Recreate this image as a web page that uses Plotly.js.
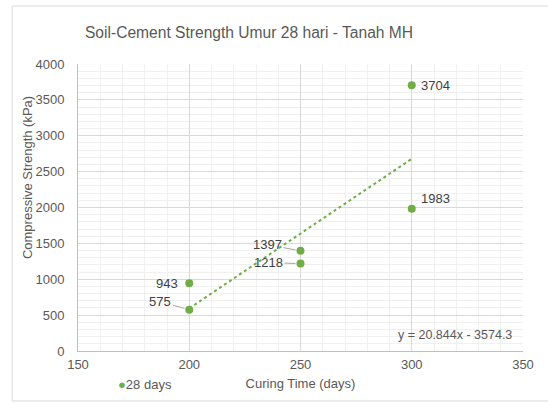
<!DOCTYPE html>
<html>
<head>
<meta charset="utf-8">
<script src="https://cdn.plot.ly/plotly-3.0.1.min.js"></script>
<style>html,body{margin:0;padding:0;background:#fff;}#chart{width:548px;height:403px;}</style>
</head>
<body>
<div id="chart"></div>
<script>
// ---- data ----
const curingDays = [200, 200, 250, 250, 300, 300];
const strengthKPa = [943, 575, 1397, 1218, 3704, 1983];
const seriesName = "28 days";
const trendSlope = 20.844;
const trendIntercept = -3574.3;
const equationText = "y = 20.844x - 3574.3";
const chartTitle = "Soil-Cement Strength Umur 28 hari - Tanah MH";
const xTitle = "Curing Time (days)";
const yTitle = "Compressive Strength (kPa)";

const green = "#70AD47";
const txt = "#595959";
const font = "Arial, 'Liberation Sans', sans-serif";

const xMin = Math.min(...curingDays), xMax = Math.max(...curingDays);
const trendX = [xMin, xMax];
const trendY = trendX.map(x => trendSlope * x + trendIntercept);

// label placements (pixel offsets from each point; dy positive = down)
const labelPlace = [
  {dx: -22, dy: 0, arrow: false},
  {dx: -29, dy: -8, arrow: true},
  {dx: -33, dy: -6, arrow: true},
  {dx: -32, dy: -1, arrow: true},
  {dx: 24, dy: 0, arrow: false},
  {dx: 24, dy: -10, arrow: false}
];

const annotations = curingDays.map((x, i) => {
  const p = labelPlace[i];
  const a = {x: x, y: strengthKPa[i], xref: "x", yref: "y", text: String(strengthKPa[i]),
    font: {family: font, size: 13, color: "#404040"}};
  if (p.arrow) {
    Object.assign(a, {showarrow: true, ax: p.dx, ay: p.dy, arrowhead: 0, arrowwidth: 1,
      arrowcolor: "#a6a6a6", standoff: 5});
  } else {
    Object.assign(a, {showarrow: false, xshift: p.dx, yshift: -p.dy});
  }
  return a;
});

annotations.push({xref: "paper", yref: "paper", x: 0.847, y: 0.056, xanchor: "center", yanchor: "middle",
  text: equationText, showarrow: false, font: {family: font, size: 12.5, color: txt}});
annotations.push({xref: "paper", yref: "paper", x: -0.112, y: 0.603, xanchor: "center", yanchor: "middle",
  text: yTitle, textangle: -90, showarrow: false, font: {family: font, size: 13, color: txt}});
annotations.push({xref: "paper", yref: "paper", x: 0.085, y: -0.115, xanchor: "left", yanchor: "middle",
  text: '<span style="color:' + green + '">●</span>' + seriesName, showarrow: false,
  font: {family: font, size: 13, color: txt}});

const traces = [
  {x: curingDays, y: strengthKPa, type: "scatter", mode: "markers", name: seriesName,
    marker: {color: green, size: 8}, showlegend: false},
  {x: trendX, y: trendY, type: "scatter", mode: "lines", name: "Linear (" + seriesName + ")",
    line: {color: green, width: 2, dash: "dot"}, showlegend: false, hoverinfo: "skip"}
];

const layout = {
  width: 548, height: 403,
  margin: {l: 78, r: 25, t: 64, b: 52},
  paper_bgcolor: "#fff", plot_bgcolor: "#fff",
  font: {family: font, color: txt, size: 13},
  title: {text: chartTitle, x: 0.155, xanchor: "left", y: 0.92, yanchor: "middle",
    font: {family: font, size: 15.6, color: txt}},
  xaxis: {range: [150, 350], dtick: 50, tick0: 150, showgrid: true, gridcolor: "#d9d9d9",
    minor: {dtick: 10, showgrid: true, gridcolor: "#f0f0f0"},
    showline: true, linecolor: "#bfbfbf", zeroline: false, ticks: "", ticklabelstandoff: 1,
    tickfont: {family: font, size: 13, color: txt},
    title: {text: xTitle, standoff: 8, font: {family: font, size: 13, color: txt}}},
  yaxis: {range: [0, 4000], dtick: 500, showgrid: true, gridcolor: "#d9d9d9",
    minor: {dtick: 100, showgrid: true, gridcolor: "#f0f0f0"},
    showline: true, linecolor: "#bfbfbf", zeroline: false, ticks: "", ticklabelstandoff: 10,
    tickfont: {family: font, size: 13, color: txt}},
  shapes: [
    {type: "line", xref: "paper", yref: "paper", x0: -0.148, x1: -0.148, y0: 1.202, y1: -0.174,
      line: {color: "#d9d9d9", width: 1}},
    {type: "line", xref: "paper", yref: "paper", x0: -0.148, x1: 1.1, y0: 1.202, y1: 1.202,
      line: {color: "#d9d9d9", width: 1}},
    {type: "line", xref: "paper", yref: "paper", x0: -0.148, x1: 1.1, y0: -0.174, y1: -0.174,
      line: {color: "#d9d9d9", width: 1}}
  ],
  annotations: annotations
};

Plotly.newPlot("chart", traces, layout, {displayModeBar: false, staticPlot: true});
</script>
</body>
</html>
